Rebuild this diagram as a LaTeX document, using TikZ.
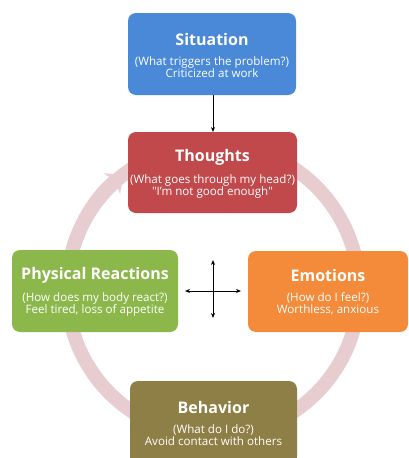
\documentclass[tikz,border=0pt]{standalone}
\usepackage{fontspec}
\setmainfont{Open Sans}
\usetikzlibrary{arrows.meta}
\definecolor{sitblue}{HTML}{4A89D8}
\definecolor{thred}{HTML}{C1484B}
\definecolor{phgreen}{HTML}{8CB74B}
\definecolor{emorange}{HTML}{F48B3B}
\definecolor{behol}{HTML}{8E7F46}
\definecolor{ringpink}{HTML}{E8CDD0}
\tikzset{
  box/.style={rectangle, text=white, align=center, inner sep=0pt},
  ring/.style={draw=ringpink, line width=14pt},
  thin/.style={draw=black, line width=0.8pt},
  tip/.style={-{Stealth[length=5pt,width=4pt]}},
  tips/.style={{Stealth[length=5pt,width=4pt]}-{Stealth[length=5pt,width=4pt]}},
}
\newcommand{\boxtext}[3]{{\fontsize{16}{19}\selectfont\bfseries #1}\\[8pt]{\fontsize{11.6}{13.4}\selectfont #2}\\{\fontsize{11.6}{13.4}\selectfont #3}}
\begin{document}
\begin{tikzpicture}[x=1pt,y=1pt]
\useasboundingbox (0,0) rectangle (409,-458);
\fill[white] (0,0) rectangle (409,-458);
\begin{scope}
\clip (0,0) rectangle (409,-458);
% ring
\coordinate (ctr) at (213,-290);
\draw[ring] (ctr) circle (146);
\draw[ring, -{Stealth[width=26pt,length=14pt,inset=4pt]}] (ctr) ++(170:146) arc (170:128:146);
% boxes
\fill[sitblue, rounded corners=8pt] (128,-13) rectangle (296,-95);
\node[box] (sit) at (212,-55) {\boxtext{Situation}{(What triggers the problem?)}{Criticized at work}};
\fill[thred, rounded corners=8pt] (128,-132) rectangle (297,-213);
\node[box] (th) at (212.5,-173.5) {\boxtext{Thoughts}{(What goes through my head?)}{\textquotedbl I'm not good enough\textquotedbl}};
\fill[phgreen, rounded corners=8pt] (12,-250) rectangle (178,-332);
\node[box] (ph) at (95,-292) {\boxtext{Physical Reactions}{(How does my body react?)}{Feel tired, loss of appetite}};
\fill[emorange, rounded corners=8pt] (248,-251) rectangle (408,-332);
\node[box] (em) at (328,-292.5) {\boxtext{Emotions}{(How do I feel?)}{Worthless, anxious}};
\fill[behol, rounded corners=8pt] (130,-381) rectangle (297,-465);
\node[box] (be) at (213.5,-423) {\boxtext{Behavior}{(What do I do?)}{Avoid contact with others}};
\end{scope}
% connectors
\coordinate (sitb) at (213,-95);
\coordinate (tht) at (213,-132);
\draw[thin, tip] (sitb) -- (tht);
\coordinate (cl) at (185,-291);
\coordinate (cr) at (241,-291);
\coordinate (ct) at (213,-260);
\coordinate (cb) at (213,-318);
\draw[thin, tips] (cl) -- (cr);
\draw[thin, tips] (ct) -- (cb);
\end{tikzpicture}
\end{document}
